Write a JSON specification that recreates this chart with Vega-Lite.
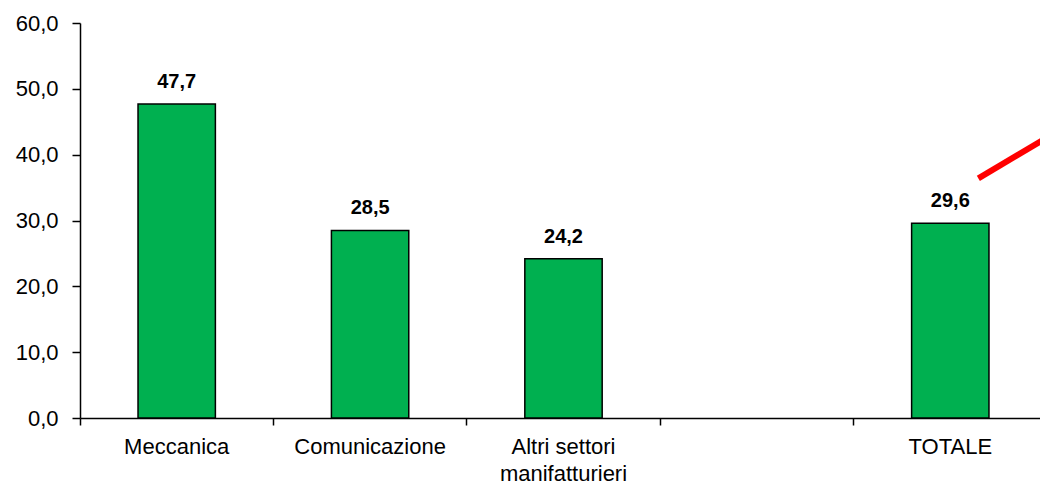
{
  "$schema": "https://vega.github.io/schema/vega-lite/v6.json",
  "autosize": {"type": "none"},
  "padding": {"left": 80, "top": 23, "right": 0, "bottom": 69},
  "width": 967,
  "height": 395,
  "background": "white",
  "config": {
    "view": {"stroke": null},
    "font": "Liberation Sans",
    "locale": {"number": {"decimal": ",", "thousands": ".", "grouping": [3], "currency": ["", " €"]}}
  },
  "datasets": {
    "bars": [
      {"settore": "Meccanica", "valore": 47.7},
      {"settore": "Comunicazione", "valore": 28.5},
      {"settore": "Altri settori manifatturieri", "valore": 24.2},
      {"settore": "TOTALE", "valore": 29.6}
    ],
    "freccia": [
      {"px": 4.645, "py": 36.4},
      {"px": 5.0, "py": 42.6}
    ]
  },
  "layer": [
    {
      "data": {"name": "bars"},
      "encoding": {
        "x": {
          "field": "settore", "type": "nominal", "sort": null,
          "scale": {"domain": ["Meccanica", "Comunicazione", "Altri settori manifatturieri", " ", "TOTALE"], "paddingInner": 0, "paddingOuter": 0},
          "axis": {
            "orient": "bottom",
            "title": null, "labelAngle": 0, "bandPosition": 0,
            "labelExpr": "datum.label == 'Altri settori manifatturieri' ? ['Altri settori', 'manifatturieri'] : datum.label",
            "labelFontSize": 22, "labelColor": "#000000", "labelPadding": 11, "labelLineHeight": 27,
            "tickSize": 7, "tickColor": "#000000", "tickWidth": 1.5,
            "domainColor": "#000000", "domainWidth": 1.5, "grid": false
          }
        },
        "y": {
          "field": "valore", "type": "quantitative",
          "scale": {"domain": [0, 60], "nice": false},
          "axis": {
            "title": null, "values": [0, 10, 20, 30, 40, 50, 60], "format": ".1f",
            "labelFontSize": 22, "labelColor": "#000000", "labelPadding": 14,
            "tickSize": 8, "tickColor": "#000000", "tickWidth": 1.5,
            "domainColor": "#000000", "domainWidth": 1.5, "grid": false
          }
        }
      },
      "layer": [
        {
          "mark": {"type": "bar", "width": {"band": 0.4}, "fill": "#00B050", "stroke": "#000000", "strokeWidth": 1.5}
        },
        {
          "mark": {"type": "text", "fontWeight": "bold", "fontSize": 20, "baseline": "alphabetic", "dy": -16, "color": "#000000"},
          "encoding": {
            "text": {"field": "valore", "type": "quantitative", "format": ".1f"}
          }
        }
      ]
    },
    {
      "data": {"name": "freccia"},
      "mark": {"type": "line", "color": "#FF0000", "strokeWidth": 6, "strokeCap": "butt"},
      "encoding": {
        "x": {"field": "px", "type": "quantitative", "scale": {"domain": [0, 5], "nice": false, "zero": false}, "axis": null},
        "y": {"field": "py", "type": "quantitative"}
      }
    }
  ],
  "resolve": {"scale": {"x": "independent"}}
}
